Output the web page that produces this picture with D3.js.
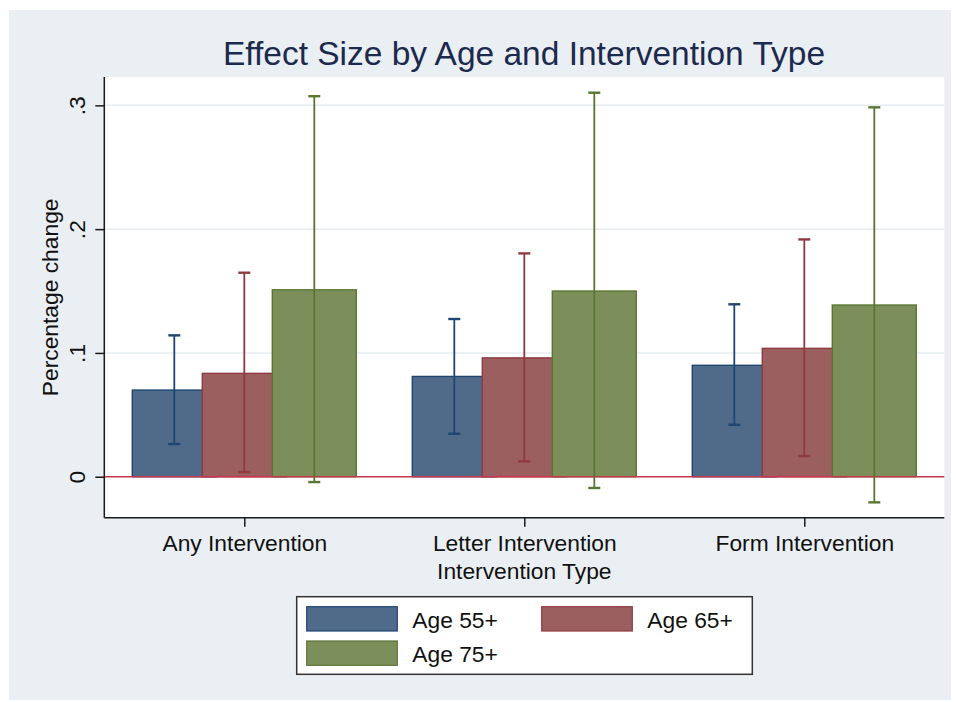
<!DOCTYPE html>
<html>
<head>
<meta charset="utf-8">
<script src="https://cdn.jsdelivr.net/npm/d3@7"></script>
<style>
  html, body { margin: 0; padding: 0; background: #ffffff; }
  svg { display: block; }
  text { font-family: "Liberation Sans", Arial, Helvetica, sans-serif; }
</style>
</head>
<body>
<svg id="chart" width="956" height="702"></svg>
<script>
// Groups along the x axis
const categories = ["Any Intervention", "Letter Intervention", "Form Intervention"];
const seriesNames = ["Age 55+", "Age 65+", "Age 75+"];

// Point estimates per age group
const age55 = [0.070, 0.081, 0.090];
const age65 = [0.0835, 0.096, 0.1037];
const age75 = [0.151, 0.150, 0.1387];

// Confidence interval bounds per age group
const age55Low = [0.0264, 0.0347, 0.042];
const age55High = [0.1142, 0.1274, 0.1393];
const age65Low = [0.0038, 0.0124, 0.0167];
const age65High = [0.1648, 0.1804, 0.1917];
const age75Low = [-0.0043, -0.0091, -0.0207];
const age75High = [0.3074, 0.3102, 0.2984];

const yTicks = [0, 0.1, 0.2, 0.3];
const yTickLabels = ["0", ".1", ".2", ".3"];

const fills = ["#506a8a", "#9c5f60", "#7c8f5b"];
const strokes = ["#1f4670", "#8e3a40", "#5a7634"];

const series = [
  { name: seriesNames[0], values: age55, low: age55Low, high: age55High },
  { name: seriesNames[1], values: age65, low: age65Low, high: age65High },
  { name: seriesNames[2], values: age75, low: age75Low, high: age75High }
];

const svg = d3.select("#chart");
const labelSize = 22.8;

// Graph region background
svg.append("rect")
  .attr("x", 9).attr("y", 10).attr("width", 942).attr("height", 690)
  .attr("fill", "#eaeff3");

const plot = { left: 104.3, right: 944.3, top: 77, bottom: 517.7 };

// Plot region
svg.append("rect")
  .attr("x", plot.left).attr("y", plot.top)
  .attr("width", plot.right - plot.left).attr("height", plot.bottom - plot.top)
  .attr("fill", "#ffffff");

// Bars sit on a numeric x axis: 4 slots per group, one per age series
const x = d3.scaleLinear().domain([0, 12]).range([plot.left, plot.right]);
const y = d3.scaleLinear().domain([-0.0331, 0.3229]).range([plot.bottom, plot.top]);
const slot = (gi, si) => 4 * gi + si + 1;
const barW = x(1.2) - x(0);

// Gridlines
svg.append("g").selectAll("line")
  .data(yTicks.filter(t => t !== 0))
  .join("line")
  .attr("x1", plot.left).attr("x2", plot.right)
  .attr("y1", d => y(d)).attr("y2", d => y(d))
  .attr("stroke", "#e6ecf0").attr("stroke-width", 1.5);

// Bars, drawn series by series so later series overlap earlier ones
series.forEach((s, si) => {
  svg.append("g").selectAll("rect")
    .data(s.values)
    .join("rect")
    .attr("x", (d, gi) => x(slot(gi, si)) - barW / 2)
    .attr("y", d => y(d))
    .attr("width", barW)
    .attr("height", d => y(0) - y(d))
    .attr("fill", fills[si])
    .attr("stroke", strokes[si])
    .attr("stroke-width", 1.4);
});

// Zero reference line
svg.append("line")
  .attr("x1", plot.left).attr("x2", plot.right)
  .attr("y1", y(0)).attr("y2", y(0))
  .attr("stroke", "#c8364a").attr("stroke-width", 1.6);

// Confidence interval whiskers
const capHalf = 6;
series.forEach((s, si) => {
  const g = svg.append("g")
    .attr("stroke", strokes[si]).attr("stroke-width", 1.8).attr("fill", "none");
  s.values.forEach((v, gi) => {
    const cx = x(slot(gi, si));
    g.append("line").attr("x1", cx).attr("x2", cx)
      .attr("y1", y(s.low[gi])).attr("y2", y(s.high[gi]));
    g.append("line").attr("x1", cx - capHalf).attr("x2", cx + capHalf)
      .attr("y1", y(s.high[gi])).attr("y2", y(s.high[gi])).attr("stroke-width", 2.4);
    g.append("line").attr("x1", cx - capHalf).attr("x2", cx + capHalf)
      .attr("y1", y(s.low[gi])).attr("y2", y(s.low[gi])).attr("stroke-width", 2.4);
  });
});

// Y axis
const yAxis = d3.axisLeft(y).tickValues(yTicks).tickSize(9)
  .tickFormat((d, i) => yTickLabels[i]);
const gy = svg.append("g").attr("transform", `translate(${plot.left},0)`).call(yAxis);
gy.select(".domain").attr("d", `M0,${plot.top}V${plot.bottom}`)
  .attr("stroke", "#1a1a1a").attr("stroke-width", 1.5);
gy.selectAll(".tick line").attr("stroke", "#1a1a1a").attr("stroke-width", 1.5);
gy.selectAll(".tick text")
  .attr("font-size", labelSize).attr("fill", "#111")
  .attr("text-anchor", "middle")
  .attr("x", null).attr("dy", null)
  .attr("transform", "translate(-19,0) rotate(-90)");

// X axis with ticks at group centres
const xAxis = d3.axisBottom(x).tickValues(categories.map((c, i) => slot(i, 1))).tickSize(9)
  .tickFormat((d, i) => categories[i]);
const gx = svg.append("g").attr("transform", `translate(0,${plot.bottom})`).call(xAxis);
gx.select(".domain").attr("d", `M${plot.left},0H${plot.right}`)
  .attr("stroke", "#1a1a1a").attr("stroke-width", 1.5);
gx.selectAll(".tick line").attr("stroke", "#1a1a1a").attr("stroke-width", 1.5);
gx.selectAll(".tick text")
  .attr("font-size", labelSize).attr("fill", "#111")
  .attr("y", 33).attr("dy", null);

// Axis titles
svg.append("text")
  .attr("transform", `translate(58,${(plot.top + plot.bottom) / 2}) rotate(-90)`)
  .attr("text-anchor", "middle").attr("font-size", labelSize).attr("fill", "#111")
  .text("Percentage change");

svg.append("text")
  .attr("x", (plot.left + plot.right) / 2).attr("y", 579)
  .attr("text-anchor", "middle").attr("font-size", labelSize).attr("fill", "#111")
  .text("Intervention Type");

// Chart title
svg.append("text")
  .attr("x", 524).attr("y", 65)
  .attr("text-anchor", "middle").attr("font-size", 33.5).attr("fill", "#1c2a4e")
  .text("Effect Size by Age and Intervention Type");

// Legend
const legend = svg.append("g");
legend.append("rect")
  .attr("x", 296.7).attr("y", 596.7).attr("width", 455.6).attr("height", 77.6)
  .attr("fill", "#ffffff").attr("stroke", "#333").attr("stroke-width", 1.5);

const legendPos = [
  { sx: 306.7, sy: 606.7, tx: 412.3, ty: 628 },
  { sx: 541.7, sy: 606.7, tx: 647.3, ty: 628 },
  { sx: 306.7, sy: 641, tx: 412.3, ty: 662 }
];
series.forEach((s, si) => {
  const p = legendPos[si];
  legend.append("rect")
    .attr("x", p.sx).attr("y", p.sy).attr("width", 90.6).attr("height", 24.3)
    .attr("fill", fills[si]).attr("stroke", strokes[si]).attr("stroke-width", 1.2);
  legend.append("text")
    .attr("x", p.tx).attr("y", p.ty)
    .attr("font-size", labelSize).attr("fill", "#111")
    .text(s.name);
});
</script>
</body>
</html>
